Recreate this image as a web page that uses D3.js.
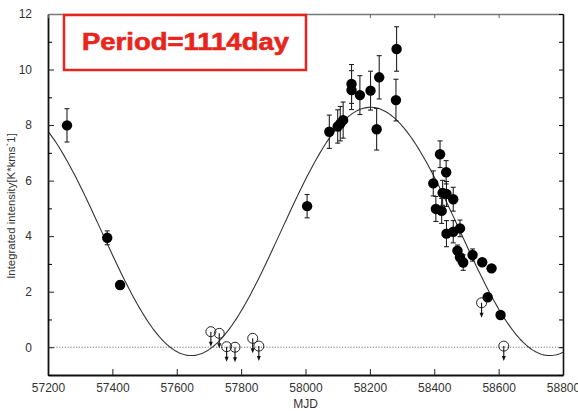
<!DOCTYPE html>
<html>
<head>
<meta charset="utf-8">
<script src="https://cdn.jsdelivr.net/npm/d3@7"></script>
<style>
  body { margin: 0; background: #fff; }
  svg { display: block; font-family: "Liberation Sans", Arial, sans-serif; }
</style>
</head>
<body>
<svg width="578" height="411"></svg>
<script>
// detections: MJD, intensity, error
const detMjd = [57259, 57384, 57424, 58005, 58074, 58100, 58108, 58117, 58143, 58143, 58169, 58202, 58221, 58229, 58281, 58283,
    58397, 58405, 58418, 58423, 58426, 58437, 58438, 58438, 58459, 58459, 58472, 58480, 58480, 58490, 58519, 58549, 58566, 58578, 58606];
const detVal = [7.99, 3.94, 2.24, 5.08, 7.76, 7.95, 8.05, 8.18, 9.48, 9.26, 9.08, 9.24, 7.85, 9.72, 8.9, 10.74,
    5.9, 4.98, 6.95, 4.91, 5.56, 6.3, 5.52, 4.09, 5.33, 4.16, 3.48, 4.28, 3.24, 3.05, 3.32, 3.06, 1.8, 2.84, 1.16];
const detErr = [0.6, 0.25, 0.15, 0.42, 0.6, 0.6, 0.62, 0.65, 0.7, 0.7, 0.7, 0.7, 0.75, 0.78, 0.75, 0.8,
    0.45, 0.45, 0.48, 0.45, 0.45, 0.42, 0.45, 0.47, 0.43, 0.4, 0.2, 0.3, 0.2, 0.28, 0.22, 0.1, 0.1, 0.1, 0.1];

// upper limits
const limMjd = [57706, 57732, 57755, 57781, 57836, 57855, 58547, 58616];
const limVal = [0.56, 0.5, 0.02, 0.0, 0.32, 0.04, 1.6, 0.04];

// sinusoid fit
const period = 1114, peakMjd = 58202, meanVal = 4.17, amp = 4.47;

const xTicks = [57200, 57400, 57600, 57800, 58000, 58200, 58400, 58600, 58800];
const yTicks = [0, 2, 4, 6, 8, 10, 12];
const yMinor = [-1, 1, 3, 5, 7, 9, 11];

const svg = d3.select('svg'),
    margin = {top: 14, right: 15, bottom: 36, left: 48},
    width = +svg.attr('width'),
    height = +svg.attr('height');

const x = d3.scaleLinear().domain([57200, 58800]).range([margin.left, width - margin.right]);
const y = d3.scaleLinear().domain([-1, 12]).range([height - margin.bottom, margin.top]);

svg.append('defs').append('clipPath').attr('id', 'clip')
    .append('rect')
    .attr('x', x(57200)).attr('y', y(12))
    .attr('width', x(58800) - x(57200)).attr('height', y(-1) - y(12));

// zero line
svg.append('line')
    .attr('x1', x(57200)).attr('x2', x(58800))
    .attr('y1', y(0)).attr('y2', y(0))
    .attr('stroke', '#777').attr('stroke-width', 1)
    .attr('stroke-dasharray', '1.2,1.6');

// fit curve
const curveMjd = d3.range(57200, 58801, 5);
const line = d3.line()
    .x(function (d) { return x(d); })
    .y(function (d) { return y(meanVal + amp * Math.cos(2 * Math.PI * (d - peakMjd) / period)); });
svg.append('path')
    .datum(curveMjd)
    .attr('clip-path', 'url(#clip)')
    .attr('d', line)
    .attr('fill', 'none')
    .attr('stroke', '#333')
    .attr('stroke-width', 1.1);

// axes
const axBottom = svg.append('g')
    .attr('transform', 'translate(0,' + y(-1) + ')')
    .call(d3.axisBottom(x).tickValues(xTicks).tickFormat(d3.format('d')).tickSizeInner(-6).tickSizeOuter(0).tickPadding(8));
const axLeft = svg.append('g')
    .attr('transform', 'translate(' + x(57200) + ',0)')
    .call(d3.axisLeft(y).tickValues(yTicks).tickFormat(d3.format('d')).tickSizeInner(-6).tickSizeOuter(0).tickPadding(16));
const axTop = svg.append('g')
    .attr('transform', 'translate(0,' + y(12) + ')')
    .call(d3.axisTop(x).tickValues(xTicks).tickFormat('').tickSizeInner(-4).tickSizeOuter(0));
const axRight = svg.append('g')
    .attr('transform', 'translate(' + x(58800) + ',0)')
    .call(d3.axisRight(y).tickValues(yTicks).tickFormat('').tickSizeInner(-4).tickSizeOuter(0));

svg.append('g')
    .attr('transform', 'translate(' + x(57200) + ',0)')
    .call(d3.axisLeft(y).tickValues(yMinor).tickFormat('').tickSizeInner(-4).tickSizeOuter(0))
    .select('.domain').remove();
svg.append('g')
    .attr('transform', 'translate(' + x(58800) + ',0)')
    .call(d3.axisRight(y).tickValues(yMinor).tickFormat('').tickSizeInner(-4).tickSizeOuter(0))
    .select('.domain').remove();

[axBottom, axLeft].forEach(function (g) {
    g.select('.domain').attr('stroke', '#111').attr('stroke-width', 1.8);
    g.selectAll('.tick line').attr('stroke', '#222');
    g.selectAll('.tick text').attr('font-size', 12).attr('fill', '#333');
});
axTop.select('.domain').attr('stroke', '#777').attr('stroke-width', 1.4);
axTop.selectAll('.tick line').attr('stroke', '#666');
axRight.select('.domain').attr('stroke', '#111').attr('stroke-width', 1.6);

// error bars
const errG = svg.append('g').attr('stroke', '#222').attr('stroke-width', 1.1);
detMjd.forEach(function (m, i) {
    const cx = x(m), y1 = y(detVal[i] + detErr[i]), y2 = y(detVal[i] - detErr[i]);
    errG.append('line').attr('x1', cx).attr('x2', cx).attr('y1', y1).attr('y2', y2);
    errG.append('line').attr('x1', cx - 2.5).attr('x2', cx + 2.5).attr('y1', y1).attr('y2', y1);
    errG.append('line').attr('x1', cx - 2.5).attr('x2', cx + 2.5).attr('y1', y2).attr('y2', y2);
});

// detections
svg.append('g').selectAll('circle')
    .data(detMjd)
    .enter().append('circle')
    .attr('cx', function (d) { return x(d); })
    .attr('cy', function (d, i) { return y(detVal[i]); })
    .attr('r', 5.2)
    .attr('fill', '#000');

// upper limits
const limG = svg.append('g');
limMjd.forEach(function (m, i) {
    const cx = x(m), cy = y(limVal[i]);
    limG.append('line')
        .attr('x1', cx).attr('x2', cx).attr('y1', cy).attr('y2', cy + 11)
        .attr('stroke', '#111').attr('stroke-width', 1.1);
    limG.append('path')
        .attr('d', 'M' + (cx - 2) + ',' + (cy + 10) + 'L' + (cx + 2) + ',' + (cy + 10) + 'L' + cx + ',' + (cy + 15) + 'Z')
        .attr('fill', '#111');
    limG.append('circle')
        .attr('cx', cx).attr('cy', cy).attr('r', 5)
        .attr('fill', 'none').attr('stroke', '#222').attr('stroke-width', 1);
});

// period box
svg.append('rect')
    .attr('x', 64).attr('y', 15).attr('width', 242).attr('height', 55)
    .attr('fill', '#fff').attr('stroke', '#e8251c').attr('stroke-width', 2.5);
svg.append('text')
    .attr('x', 82).attr('y', 50)
    .attr('font-size', 23).attr('font-weight', 'bold')
    .attr('fill', '#e8251c').attr('stroke', '#e8251c').attr('stroke-width', 0.6)
    .attr('textLength', 207).attr('lengthAdjust', 'spacingAndGlyphs')
    .text('Period=1114day');

// axis titles
svg.append('text')
    .attr('x', x(58000)).attr('y', 408)
    .attr('text-anchor', 'middle').attr('font-size', 12).attr('fill', '#333')
    .text('MJD');
svg.append('text')
    .attr('transform', 'translate(15,206) rotate(-90)')
    .attr('text-anchor', 'middle').attr('font-size', 11.4).attr('fill', '#333')
    .text('Integrated intensity[K*kms`1]');
</script>
</body>
</html>
